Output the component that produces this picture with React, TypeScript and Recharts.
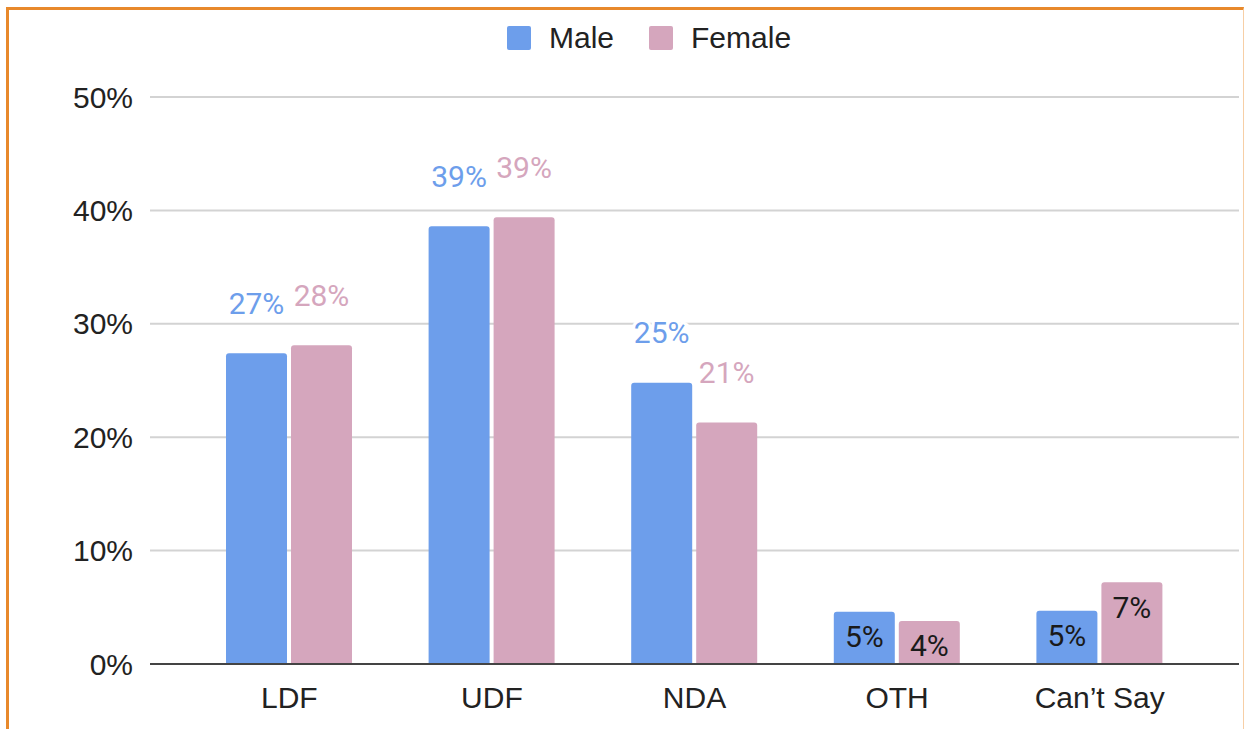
import React from 'react';
import { BarChart, Bar, XAxis, YAxis, CartesianGrid, Legend, LabelList } from 'recharts';

// parties and share of vote (%) by gender
const parties = ['LDF', 'UDF', 'NDA', 'OTH', "Can’t Say"];
const maleShare = [27.4, 38.6, 24.8, 4.6, 4.7];
const femaleShare = [28.1, 39.4, 21.3, 3.8, 7.2];
const yTicks = [0, 10, 20, 30, 40, 50];

const data = parties.map((party, i) => ({
  party,
  male: maleShare[i],
  female: femaleShare[i],
}));

const BLUE = '#6d9eeb';
const PINK = '#d5a6bd';
const AXIS_FONT = '"Liberation Sans", Arial, Helvetica, sans-serif';
const LABEL_FONT = 'Roboto, "Liberation Sans", Arial, sans-serif';

// small bars get their label inside in black, the rest above in the series colour
const makeLabel = (color: string) => (props: any) => {
  const x = Number(props.x);
  const y = Number(props.y);
  const width = Number(props.width);
  const value = Number(props.value);
  const text = `${Math.round(value)}%`;
  const inside = value < 10;
  return (
    <text
      x={x + width / 2}
      y={inside ? y + 25 : y - 50}
      textAnchor="middle"
      dominantBaseline="central"
      fontFamily={LABEL_FONT}
      fontSize={30}
      fill={inside ? '#1a1a1a' : color}
      stroke={inside ? 'none' : '#fff'}
      strokeWidth={inside ? 0 : 6}
      paintOrder="stroke"
    >
      {text}
    </text>
  );
};

const renderLegend = () => (
  <div
    style={{
      display: 'flex',
      alignItems: 'center',
      height: 40,
      paddingLeft: 507,
      fontFamily: AXIS_FONT,
      fontSize: 30,
      color: '#222',
    }}
  >
    <span style={{ width: 24, height: 24, background: BLUE, borderRadius: 2, display: 'inline-block' }} />
    <span style={{ marginLeft: 18 }}>Male</span>
    <span style={{ width: 24, height: 24, background: PINK, borderRadius: 2, display: 'inline-block', marginLeft: 35 }} />
    <span style={{ marginLeft: 18 }}>Female</span>
  </div>
);

export default function App() {
  return (
    <div
      style={{
        position: 'absolute',
        left: 0,
        top: 0,
        width: 1247,
        height: 729,
        overflow: 'hidden',
        background: '#fff',
      }}
    >
      <div
        style={{
          position: 'absolute',
          left: 6,
          top: 7,
          width: 1238,
          height: 800,
          borderTop: '3px solid #e8892b',
          borderLeft: '3px solid #e8892b',
          borderRight: '1px solid #f7cfa6',
          boxSizing: 'border-box',
        }}
      />
      <div style={{ position: 'absolute', left: 0, top: 0 }}>
        <BarChart
          width={1247}
          height={729}
          data={data}
          margin={{ top: 57, right: 8, bottom: 35, left: 0 }}
          barCategoryGap={38}
          barGap={4}
        >
          <CartesianGrid vertical={false} stroke="#d3d3d3" strokeWidth={2} />
          <XAxis
            dataKey="party"
            height={30}
            padding={{ left: 38, right: 38 }}
            axisLine={{ stroke: '#444', strokeWidth: 2 }}
            tickLine={false}
            tickSize={0}
            tickMargin={23}
            tick={{ fontSize: 30, fill: '#222', fontFamily: AXIS_FONT }}
          />
          <YAxis
            width={150}
            domain={[0, 50]}
            ticks={yTicks}
            tickFormatter={(v) => `${v}%`}
            axisLine={false}
            tickLine={false}
            tickSize={0}
            tickMargin={17}
            tick={{ fontSize: 30, fill: '#222', fontFamily: AXIS_FONT }}
          />
          <Legend
            verticalAlign="top"
            content={renderLegend}
            wrapperStyle={{ top: 18, left: 0, width: 1247, height: 40 }}
          />
          <Bar dataKey="male" name="Male" fill={BLUE} barSize={61} radius={[3, 3, 0, 0]} isAnimationActive={false}>
            <LabelList dataKey="male" content={makeLabel(BLUE)} />
          </Bar>
          <Bar dataKey="female" name="Female" fill={PINK} barSize={61} radius={[3, 3, 0, 0]} isAnimationActive={false}>
            <LabelList dataKey="female" content={makeLabel(PINK)} />
          </Bar>
        </BarChart>
      </div>
    </div>
  );
}
